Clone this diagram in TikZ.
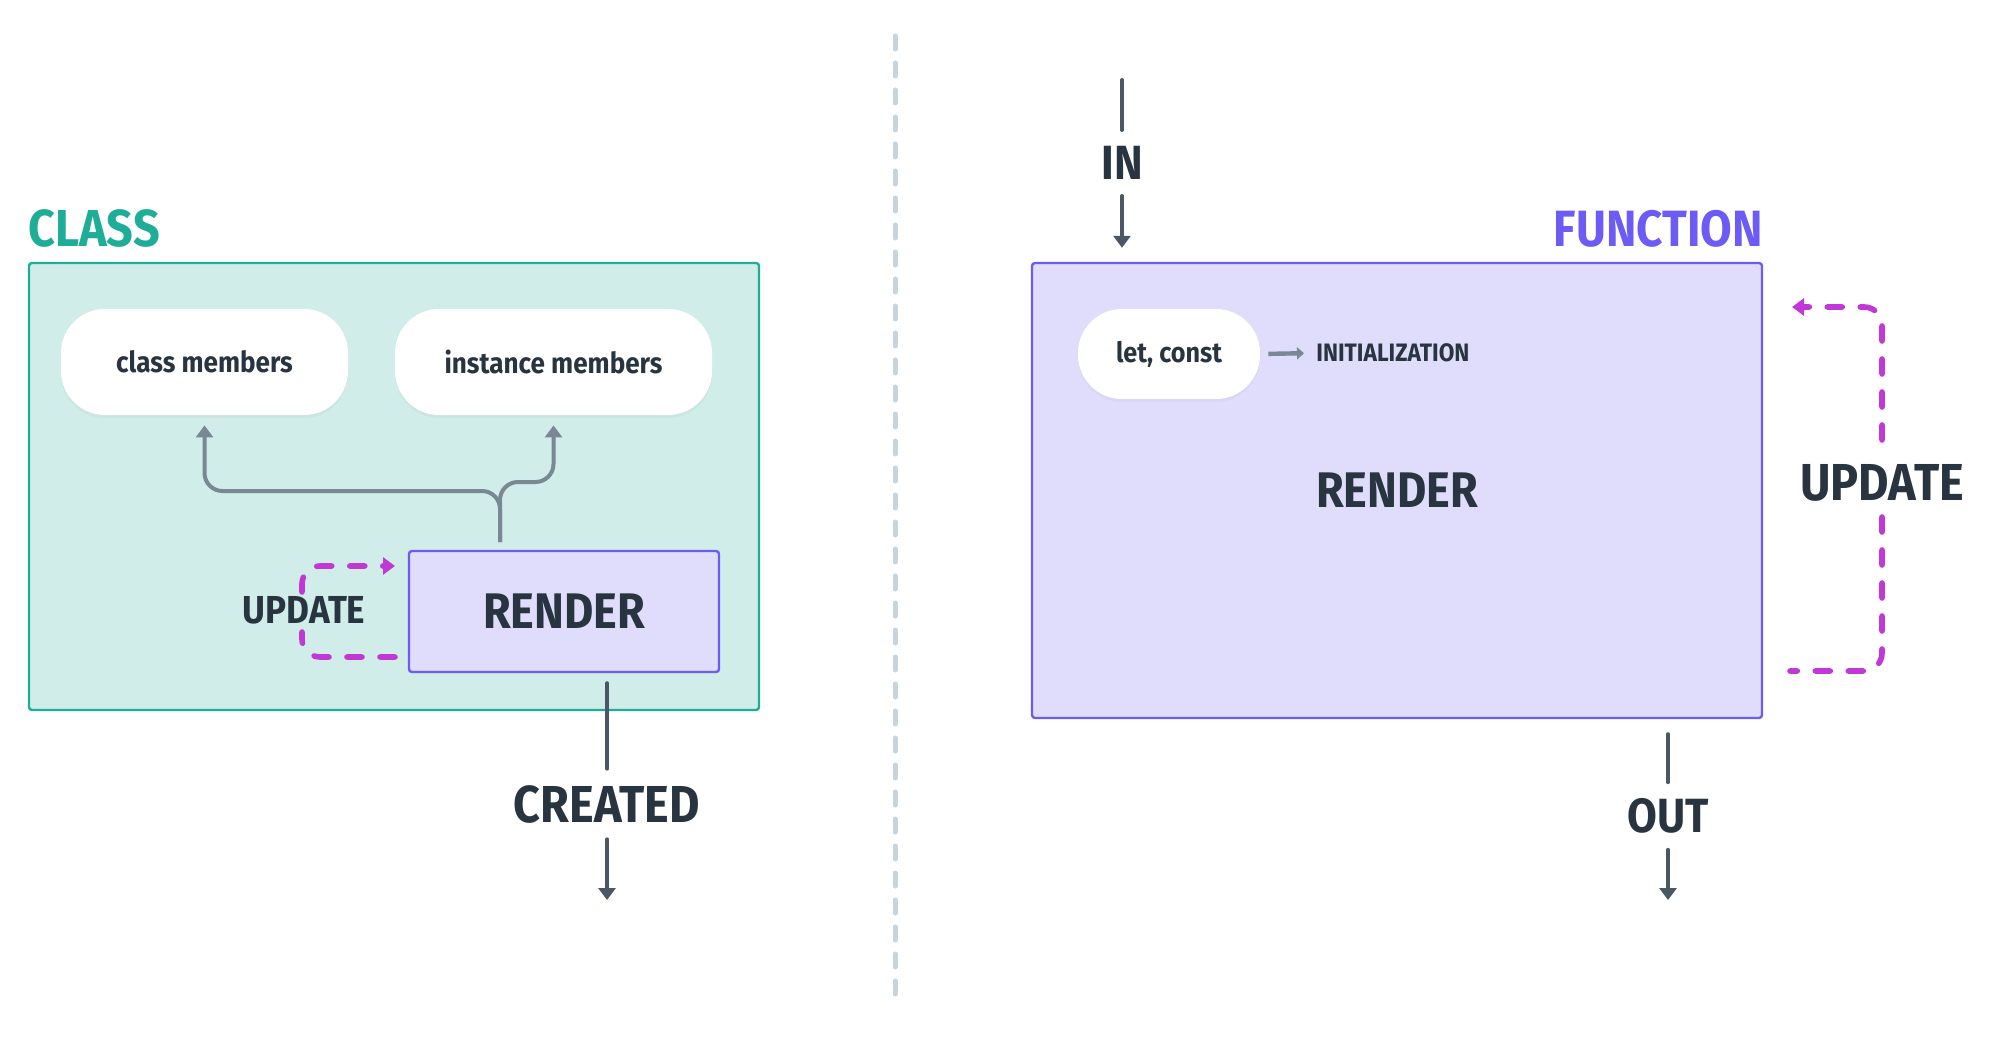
\documentclass[tikz,border=0pt]{standalone}
\usepackage{fontspec}
\setmainfont{Fira Sans}[FakeStretch=0.9]
\usetikzlibrary{arrows.meta,positioning,shadows}

\definecolor{inktext}{HTML}{283440}
\definecolor{clsteal}{HTML}{1EAE98}
\definecolor{clsfill}{HTML}{D0EDE9}
\definecolor{funpurple}{HTML}{6C5CF5}
\definecolor{funfill}{HTML}{E0DCFB}
\definecolor{forkgray}{HTML}{7A8794}
\definecolor{flowgray}{HTML}{4A5866}
\definecolor{upmagenta}{HTML}{C039D6}
\definecolor{divgray}{HTML}{C6D4E0}

\tikzset{
  boxtitle/.style={font=\bfseries\fontsize{26}{26}\selectfont, inner sep=0pt},
  container/.style={draw, line width=1.2pt, rounded corners=1.5pt, inner sep=0pt},
  renderbox/.style={draw=funpurple, fill=funfill, line width=1.2pt, rounded corners=1.5pt,
    text=inktext, font=\bfseries\fontsize{25}{25}\selectfont},
  pill/.style={fill=white, rounded corners=22pt, inner sep=0pt, text=inktext,
    font=\bfseries\fontsize{14.5}{14.5}\selectfont,
    drop shadow={opacity=0.06, shadow xshift=0pt, shadow yshift=-1.5pt}},
  flowlabel/.style={text=inktext, font=\bfseries\fontsize{24}{24}\selectfont, inner sep=8pt},
  fork/.style={draw=forkgray, line width=2pt, rounded corners=9pt,
    -{Triangle[length=6pt,width=8.5pt]}},
  flow/.style={draw=flowgray, line width=2pt, line cap=round},
  flowtip/.style={flow, -{Triangle[length=6pt,width=8.5pt]}},
  update/.style={draw=upmagenta, line width=2.8pt, line cap=round, rounded corners=9pt,
    dash pattern=on 7.5pt off 9pt},
  divider/.style={draw=divgray, line width=2.5pt, line cap=round, dash pattern=on 6.5pt off 7pt}
}

\begin{document}
\begin{tikzpicture}[x=0.5pt, y=-0.5pt]

\useasboundingbox[fill=white] (0,0) rectangle (2000,1042);

% divider
\coordinate (divtop) at (895,36);
\coordinate (divbot) at (895,997);
\draw[divider] (divtop) -- (divbot);

% class side
\node[container, draw=clsteal, fill=clsfill, minimum width=365pt, minimum height=223.5pt] (clsbox) at (394,486.5) {};
\node[boxtitle, text=clsteal, anchor=south west, yshift=7pt] (clstitle) at (clsbox.north west) {CLASS};

\node[pill, minimum width=143.5pt, minimum height=53pt] (clsmem) at (204.5,362) {class members};
\node[pill, minimum width=158.5pt, minimum height=53pt] (instmem) at (553.5,362) {instance members};
\node[renderbox, minimum width=155pt, minimum height=60.5pt] (clsrender) at (564,611.5) {RENDER};

\coordinate (stem) at (500,542);
\draw[fork, shorten >=5pt] (stem) -- (500,491) -| (clsmem.south);
\draw[fork, shorten >=5pt] (stem) -- (500,482) -| (instmem.south);

\node[flowlabel, font=\bfseries\fontsize{19.5}{19.5}\selectfont] (clsupdate) at (304,610) {UPDATE};
\coordinate (clsupA) at (302,592);
\coordinate (clsupB) at (395,566);
\coordinate (clsupC) at (395,657);
\coordinate (clsupD) at (302,632);
\draw[update, -{Triangle[length=6pt,width=8.5pt]}] (clsupA) |- (clsupB);
\draw[update] (clsupC) -| (clsupD);

\node[flowlabel, font=\bfseries\fontsize{26}{26}\selectfont] (created) at (607,804) {CREATED};
\coordinate (clsend) at (607,900);
\draw[flow, shorten <=5pt] (clsrender.south -| created) -- (created);
\draw[flowtip] (created) -- (clsend);

% function side
\node[renderbox, minimum width=365pt, minimum height=227.5pt] (funbox) at (1397,490.5) {RENDER};
\node[boxtitle, text=funpurple, anchor=south east, yshift=7pt, font=\bfseries\fontsize{25.5}{25.5}\selectfont] (funtitle) at (funbox.north east) {FUNCTION};

\node[pill, minimum width=91pt, minimum height=45pt, font=\bfseries\fontsize{14}{14}\selectfont] (letconst) at (1169,354) {let, const};
\node[anchor=west, inner sep=0pt, text=inktext, font=\bfseries\fontsize{12.6}{12.6}\selectfont] (init) at (1316,353) {INITIALIZATION};
\draw[fork, line width=2.2pt, shorten <=4pt, shorten >=6pt, -{Triangle[length=3.5pt,width=6pt]}] (letconst.east) -- (init.west);

\coordinate (intop) at (1122,80);
\node[flowlabel] (in) at (1122,163) {IN};
\draw[flow] (intop) -- (in);
\draw[flowtip, shorten >=7pt] (in) -- (funbox.north -| in);

\node[flowlabel] (out) at (1668,816) {OUT};
\coordinate (outend) at (1668,900);
\draw[flow, shorten <=7.5pt] (funbox.south -| out) -- (out);
\draw[flowtip] (out) -- (outend);

\node[flowlabel, font=\bfseries\fontsize{26}{26}\selectfont] (funupdate) at (1882,483) {UPDATE};
\coordinate (funupA) at (1882,440);
\coordinate (funupB) at (1792,307);
\coordinate (funupC) at (1882,517);
\coordinate (funupD) at (1790,671);
\draw[update, -{Triangle[length=6pt,width=8.5pt]}] (funupA) |- (funupB);
\draw[update] (funupC) |- (funupD);

\end{tikzpicture}
\end{document}
